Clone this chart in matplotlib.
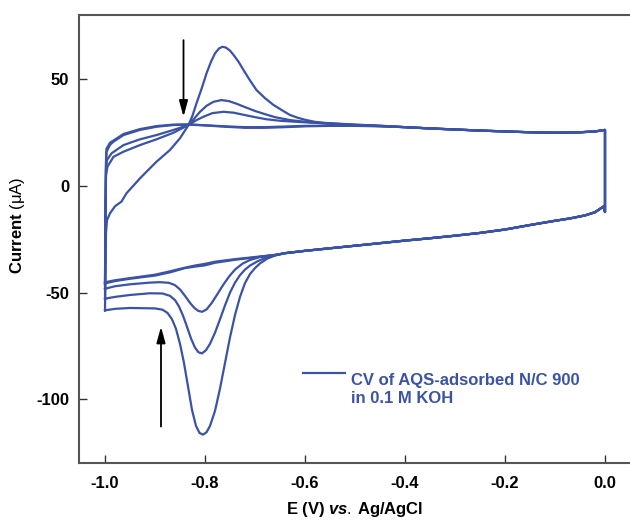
import numpy as np
import matplotlib
matplotlib.use("Agg")
import matplotlib.pyplot as plt
from matplotlib import rcParams

rcParams.update({
    "font.family": ["Liberation Sans", "DejaVu Sans"],
    "font.size": 12,
    "font.weight": "bold",
    "axes.unicode_minus": False,
    "mathtext.fontset": "custom",
    "mathtext.rm": "Liberation Sans:weight=normal",
    "mathtext.it": "Liberation Sans:italic:bold",
    "mathtext.bf": "Liberation Sans:bold",
})

BLUE = "#3a53a4"

# ---------------------------------------------------------------------
#  CV data (E in V vs Ag/AgCl, I in uA)
# ---------------------------------------------------------------------
# anodic sweeps (-1.0 -> -0.45), one per cycle
up1_E = [-1.0, -0.999, -0.998, -0.996, -0.99, -0.98, -0.967, -0.957, -0.93, -0.897,
         -0.87, -0.85, -0.833, -0.825, -0.817, -0.807, -0.797, -0.788, -0.78, -0.772,
         -0.765, -0.758, -0.75, -0.743, -0.733, -0.723, -0.71, -0.697, -0.68, -0.663,
         -0.645, -0.63, -0.613, -0.597, -0.58, -0.56, -0.53, -0.5, -0.45]
up1_I = [-58.3, -40, -22, -16, -12.8, -9.5, -7.3, -3.4, 3.6, 11.4,
         16.9, 22.4, 28.6, 33.0, 38.8, 45.5, 52.8, 58.3, 62.2, 64.5,
         65.3, 64.9, 63.5, 61.5, 58.3, 54.4, 49.5, 45.0, 41.2, 38.0,
         35.4, 33.3, 31.9, 30.9, 30.1, 29.6, 29.2, 28.8, 28.3]

up2_E = [-1.0, -0.999, -0.998, -0.995, -0.983, -0.963, -0.93, -0.897, -0.863, -0.833,
         -0.822, -0.81, -0.797, -0.783, -0.767, -0.752, -0.737, -0.72, -0.70, -0.683,
         -0.66, -0.63, -0.59, -0.55, -0.5, -0.45]
up2_I = [-53, -20, 5, 9.1, 13.7, 16.1, 19.2, 21.9, 25.0, 28.6,
         31.5, 34.8, 37.6, 39.5, 40.3, 39.8, 38.6, 37.0, 35.2, 33.9,
         32.3, 30.9, 29.9, 29.3, 28.7, 28.2]

up3_E = [-1.0, -0.999, -0.998, -0.996, -0.987, -0.963, -0.93, -0.897, -0.863, -0.833,
         -0.818, -0.803, -0.785, -0.763, -0.743, -0.723, -0.70, -0.677, -0.65, -0.617,
         -0.57, -0.5, -0.45]
up3_I = [-48.3, -15, 8, 12.2, 15.3, 19.2, 21.9, 23.9, 26.3, 28.6,
         30.8, 32.5, 34.2, 34.8, 34.4, 33.4, 32.3, 31.3, 30.6, 30.1,
         29.5, 28.6, 28.1]

up4_E = [-1.0, -0.999, -0.998, -0.997, -0.99, -0.983, -0.963, -0.93, -0.897, -0.863,
         -0.833, -0.8, -0.76, -0.72, -0.68, -0.64, -0.6, -0.55, -0.5, -0.45]
up4_I = [-46, -10, 10, 16, 19.3, 20.8, 23.9, 26.3, 27.8, 28.6,
         28.8, 28.4, 27.8, 27.3, 27.3, 27.6, 28.0, 28.2, 28.2, 28.0]

up5_E = [-1.0, -0.999, -0.998, -0.997, -0.99, -0.98, -0.963, -0.93, -0.897, -0.863,
         -0.833, -0.8, -0.76, -0.72, -0.68, -0.64, -0.6, -0.55, -0.5, -0.45]
up5_I = [-45.3, -8, 12, 17.5, 20.3, 21.8, 24.4, 26.7, 28.1, 28.8,
         28.9, 28.5, 28.0, 27.6, 27.6, 27.9, 28.2, 28.3, 28.3, 28.1]

# shared part of the anodic sweep and reversal at 0 V
tail_E = [-0.4, -0.35, -0.3, -0.25, -0.2, -0.15, -0.1, -0.05, -0.02, 0.0]
tail_I = [27.6, 27.0, 26.5, 26.0, 25.6, 25.2, 25.0, 25.2, 25.6, 26.3]

# shared part of the cathodic sweep (0 -> -0.64)
head_E = [0.0, -0.003, -0.008, -0.02, -0.04, -0.07, -0.1, -0.15, -0.2, -0.25,
          -0.3, -0.35, -0.4, -0.45, -0.5, -0.55, -0.6, -0.64]
head_I = [-12.2, -9.6, -10.4, -12.3, -13.8, -15.2, -16.3, -18.3, -20.4, -22.0,
          -23.3, -24.5, -25.6, -26.8, -28.0, -29.2, -30.4, -31.5]

# cathodic sweeps (-0.66 -> -1.0), one per cycle
dn1_E = [-0.66, -0.675, -0.69, -0.70, -0.71, -0.72, -0.73, -0.74, -0.75, -0.76,
         -0.77, -0.78, -0.79, -0.797, -0.804, -0.811, -0.818, -0.826, -0.834, -0.842,
         -0.85, -0.858, -0.866, -0.875, -0.885, -0.90, -0.95, -0.98, -0.997, -1.0]
dn1_I = [-32.6, -34.0, -36.3, -38.5, -41.3, -45.5, -52, -60.5, -71, -83,
         -95, -105.5, -112.5, -115.5, -116.6, -115.8, -112.5, -105, -94, -83,
         -74, -67, -62.5, -59.5, -58, -57.4, -57.2, -57.6, -58.2, -58.3]

dn2_E = [-0.66, -0.68, -0.695, -0.71, -0.72, -0.73, -0.74, -0.75, -0.76, -0.77,
         -0.78, -0.79, -0.798, -0.806, -0.813, -0.82, -0.828, -0.836, -0.844, -0.852,
         -0.86, -0.87, -0.885, -0.91, -0.95, -0.98, -0.997, -1.0]
dn2_I = [-32.5, -33.8, -35.3, -37.3, -39.2, -41.8, -45.3, -50, -56, -62.5,
         -68.8, -74, -77, -78.5, -78, -75.8, -71.5, -66, -60.8, -56.5,
         -53.5, -51.5, -50.4, -50.3, -51.1, -52, -52.7, -53]

dn3_E = [-0.66, -0.69, -0.71, -0.725, -0.74, -0.752, -0.764, -0.776, -0.787, -0.797,
         -0.806, -0.814, -0.822, -0.83, -0.84, -0.85, -0.86, -0.872, -0.89, -0.91,
         -0.95, -0.98, -0.997, -1.0]
dn3_I = [-32.4, -33.3, -34.7, -36.4, -39.2, -42.5, -46.5, -51, -55, -57.9,
         -59, -58.5, -57, -54.8, -51.5, -48.5, -46.5, -45.4, -45.1, -45.3,
         -46.1, -47, -48, -48.3]

dn4_E = [-0.66, -0.70, -0.74, -0.78, -0.80, -0.82, -0.84, -0.87, -0.90, -0.95,
         -0.98, -0.997, -1.0]
dn4_I = [-32.3, -33.5, -34.6, -36.0, -37.2, -37.8, -38.5, -40.5, -42.0, -43.5,
         -44.6, -45.5, -46.0]

dn5_E = [-0.66, -0.70, -0.74, -0.78, -0.80, -0.82, -0.84, -0.87, -0.90, -0.95,
         -0.98, -0.997, -1.0]
dn5_I = [-32.3, -33.3, -34.3, -35.5, -36.5, -37.3, -38.3, -40.0, -41.6, -43.2,
         -44.2, -45.0, -45.3]

cycles = [
    (up1_E, up1_I, dn1_E, dn1_I),
    (up2_E, up2_I, dn2_E, dn2_I),
    (up3_E, up3_I, dn3_E, dn3_I),
    (up4_E, up4_I, dn4_E, dn4_I),
    (up5_E, up5_I, dn5_E, dn5_I),
]

# arrows: (E, I_start, I_end)
arrow_down = (-0.843, 68.4, 32.5)
arrow_up = (-0.888, -112.8, -66.0)

x_ticks = [-1.0, -0.8, -0.6, -0.4, -0.2, 0.0]
y_ticks = [-100, -50, 0, 50]

# ---------------------------------------------------------------------
fig = plt.figure(figsize=(6.30, 5.23), dpi=100)
ax = fig.add_axes([79 / 630, 60 / 523, 561 / 630, 448 / 523])

for uE, uI, dE, dI in cycles:
    E = np.concatenate([uE, tail_E, head_E, dE])
    I = np.concatenate([uI, tail_I, head_I, dI])
    ax.plot(E, I, color=BLUE, lw=1.6, solid_joinstyle="round")

for (xa, y0, y1) in (arrow_down, arrow_up):
    ax.annotate("", xy=(xa, y1), xytext=(xa, y0),
                arrowprops=dict(arrowstyle="-|>,head_length=0.8,head_width=0.22",
                                color="black", lw=1.3, shrinkA=0, shrinkB=0))

ax.set_xlim(-1.052, -1.052 + 561 / 500)
ax.set_ylim(-129.9, 80.2)
ax.set_xticks(x_ticks)
ax.set_xticklabels([f"{v:.1f}" for v in x_ticks])
ax.set_yticks(y_ticks)

for s in ("left", "bottom", "top"):
    ax.spines[s].set_color("#555555")
    ax.spines[s].set_linewidth(1.5)
ax.spines["right"].set_visible(False)
ax.tick_params(direction="in", length=6, width=1.0, color="#333333",
               labelsize=12)
ax.tick_params(axis="x", pad=9)
ax.tick_params(axis="y", pad=7)

ax.set_xlabel(r"E (V) $\it{vs.}\,$Ag/AgCl", fontsize=12, fontweight="bold")
ax.set_ylabel(r"Current $\mathrm{(\mu A)}$", fontsize=12, fontweight="bold")
ax.xaxis.set_label_coords((355 - 79) / 561, (463 - 500) / 448)
ax.yaxis.set_label_coords((27 - 79) / 561, (463 - 225) / 448)

# legend drawn by hand so the handle sits on the first text line
ax.plot([0.399, 0.474], [0.2016, 0.2016], color=BLUE, lw=1.6,
        transform=ax.transAxes)
ax.text(0.485, 0.2016, "CV of AQS-adsorbed N/C 900\nin 0.1 M KOH",
        transform=ax.transAxes, color=BLUE, fontsize=12, fontweight="bold",
        va="top", ha="left", linespacing=1.25)

fig.savefig("out.png", dpi=100)
